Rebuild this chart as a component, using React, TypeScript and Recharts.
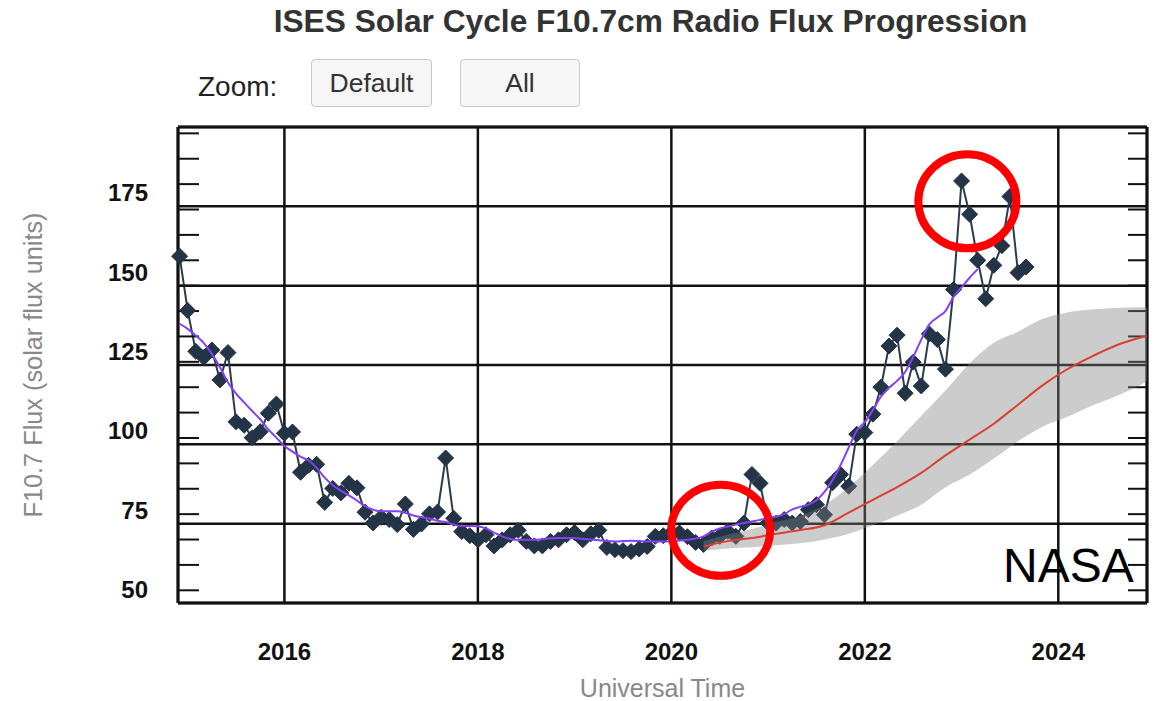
import React from "react";
import {
  ComposedChart, Line, Area, XAxis, YAxis, CartesianGrid, ReferenceDot,
} from "recharts";

// monthly observed F10.7, first value is Dec 2014
const FIRST_MONTH = "2014-12";
const FLUX = [
  159.3,
  142.2, 129.3, 127.4, 129.7, 120.3, 128.9, 107.1, 106.0, 102.1, 104.0, 109.8, 112.7,
  103.5, 103.9, 91.2, 93.4, 93.7, 81.7, 86.1, 84.7, 87.7, 86.3, 78.6, 75.2,
  77.0, 76.3, 74.7, 81.2, 73.2, 74.9, 78.1, 78.7, 95.7, 76.7, 72.5, 71.2,
  69.9, 71.5, 68.0, 69.9, 71.5, 72.9, 69.4, 68.0, 68.0, 69.4, 69.9, 71.5,
  72.2, 69.9, 71.8, 72.9, 67.5, 66.8, 66.5, 66.2, 67.0, 67.8, 71.0, 71.2,
  72.1, 72.1, 70.9, 69.1, 68.4, 70.5, 71.0, 72.6, 71.0, 75.2, 90.5, 87.7,
  75.2, 75.2, 76.3, 75.2, 75.7, 79.4, 81.0, 77.8, 87.9, 90.5, 86.8, 103.2,
  103.7, 109.5, 118.0, 131.0, 134.4, 116.1, 125.9, 118.4, 134.8, 133.0, 123.7, 148.8,
  183.0, 172.5, 158.0, 145.9, 156.4, 162.6, 178.1, 154.1, 155.9,
];
// 13-month smoothed, same months, ends Mar 2023
const SMOOTHED = [
  138.0,
  136.4, 134.3, 131.9, 128.5, 124.3, 119.5, 116.0, 113.2, 110.5, 107.9, 104.7, 102.1,
  99.5, 97.7, 96.1, 94.9, 92.6, 89.5, 87.1, 85.4, 83.9, 82.3, 80.5, 79.4,
  78.9, 78.9, 78.9, 78.4, 77.6, 77.0, 76.6, 75.9, 75.5, 74.7, 74.3, 74.3,
  74.2, 73.5, 72.2, 71.0, 70.2, 69.9, 69.9, 69.9, 70.1, 70.4, 70.5, 70.5,
  70.5, 70.2, 70.0, 69.8, 69.5, 69.4, 69.5, 69.6, 69.5, 69.4, 69.4, 69.4,
  69.4, 69.7, 69.9, 70.3, 71.0, 72.5, 73.5, 74.1, 74.7, 75.2, 75.7, 76.2,
  76.8, 77.2, 78.0, 79.5, 80.3, 81.0, 82.4, 85.0, 88.8, 93.5, 99.0, 104.3,
  107.0, 110.8, 115.0, 117.8, 120.0, 122.8, 127.5, 133.0, 137.8, 140.0, 142.0, 146.5,
  149.5, 152.5, 155.2,
];

// NOAA/NASA panel prediction
const PRED_MONTHS = [
  "2020-05", "2020-08", "2020-11", "2021-02", "2021-05", "2021-08", "2021-11",
  "2022-02", "2022-05", "2022-08", "2022-11", "2023-02", "2023-05", "2023-08",
  "2023-11", "2024-02", "2024-05", "2024-08", "2024-11", "2024-12",
];
const PRED_MEDIAN = [67.8, 69.5, 70.5, 71.8, 73.0, 74.5, 78.5, 82.5, 86.5, 91.0, 96.5, 101.5, 106.5, 112.5, 118.5, 123.5, 127.5, 131.0, 133.5, 134.2];
const PRED_HIGH = [69.5, 71.5, 73.3, 75.5, 77.5, 81.0, 86.5, 93.5, 101.0, 109.0, 117.0, 125.5, 132.0, 135.5, 139.5, 141.5, 142.5, 143.0, 143.2, 143.3];
const PRED_LOW = [66.5, 67.2, 67.6, 68.2, 68.8, 70.0, 71.8, 74.5, 77.5, 81.0, 86.5, 90.5, 95.5, 101.0, 105.5, 108.5, 112.0, 115.0, 118.5, 119.8];

const X_TICKS = [2016, 2018, 2020, 2022, 2024];
const X_MINOR = [2015, 2015.5, 2016.5, 2017, 2017.5, 2018.5, 2019, 2019.5, 2020.5, 2021, 2021.5, 2022.5, 2023, 2023.5, 2024.5];
const Y_TICKS = [50, 75, 100, 125, 150, 175];
const Y_MINOR = [
  54, 58, 62, 66, 70, 74, 78, 82, 86, 90, 94, 98, 102, 106, 110, 114, 118, 122, 126,
  130, 134, 138, 142, 146, 150, 154, 158, 162, 166, 170, 174, 178, 182, 186, 190, 194, 198,
];
// red highlight rings: [year, flux]
const RINGS = [
  { x: 2023.06, y: 176.6, rx: 49, ry: 47 },
  { x: 2020.51, y: 72.9, rx: 49.5, ry: 45.5 },
];

const X_DOMAIN = [2014.9, 2024.917];
const Y_DOMAIN = [50, 200];
const FONT = "'Liberation Sans', Arial, Helvetica, sans-serif";

const toT = (s: string) => {
  const [y, m] = s.split("-").map(Number);
  return y + (m - 1) / 12;
};

const t0 = toT(FIRST_MONTH);
const observed = FLUX.map((v, i) => ({
  t: t0 + i / 12,
  flux: v,
  smooth: i < SMOOTHED.length ? SMOOTHED[i] : null,
}));
const prediction = PRED_MONTHS.map((m, i) => ({
  t: toT(m),
  median: PRED_MEDIAN[i],
  band: [PRED_LOW[i], PRED_HIGH[i]],
}));

const Diamond = (p: any) => {
  const { cx, cy, index } = p;
  if (cx == null || cy == null) return <g key={index} />;
  const r = 8;
  return (
    <path
      key={index}
      d={`M${cx},${cy - r}L${cx + r},${cy}L${cx},${cy + r}L${cx - r},${cy}Z`}
      fill="#243447"
      stroke="#243447"
      strokeWidth={1}
    />
  );
};

const NoLabel = () => <g />;

const YTick = ({ x, y, payload }: any) => (
  <text x={x - 30} y={y - 5} textAnchor="end" fontSize={24} fontWeight="bold" fill="#111" fontFamily={FONT}>
    {payload.value}
  </text>
);

const XTick = ({ x, y, payload }: any) => (
  <text x={x} y={y + 57} textAnchor="middle" fontSize={24} fontWeight="bold" fill="#111" fontFamily={FONT}>
    {payload.value}
  </text>
);

const XTitle = ({ viewBox }: any) => (
  <text x={viewBox.x + viewBox.width / 2} y={viewBox.y + 94} textAnchor="middle" fontSize={25} fill="#888" fontFamily={FONT}>
    Universal Time
  </text>
);

const YTitle = ({ viewBox }: any) => {
  const cx = viewBox.x + 42;
  const cy = viewBox.y + viewBox.height / 2;
  return (
    <text x={cx} y={cy} transform={`rotate(-90, ${cx}, ${cy})`} textAnchor="middle" fontSize={25.3} fill="#888" fontFamily={FONT}>
      F10.7 Flux (solar flux units)
    </text>
  );
};

const buttonStyle: React.CSSProperties = {
  position: "absolute",
  top: 59,
  height: 46,
  border: "1px solid #c8c8c8",
  borderRadius: 4,
  background: "#f6f6f6",
  color: "#333",
  fontSize: 26.5,
  display: "flex",
  alignItems: "center",
  justifyContent: "center",
};

export default function App() {
  return (
    <div style={{ position: "absolute", left: 0, top: 0, width: 1160, height: 701, fontFamily: FONT, background: "#fff" }}>
      <ComposedChart
        width={1160}
        height={701}
        data={observed}
        margin={{ top: 127, right: 13, bottom: 0, left: 0 }}
      >
        <CartesianGrid stroke="#111" strokeWidth={2.5} />
        <XAxis
          dataKey="t"
          type="number"
          domain={X_DOMAIN}
          ticks={X_TICKS}
          height={98}
          tickSize={0}
          tickMargin={0}
          axisLine={false}
          tickLine={false}
          tick={<XTick />}
          label={<XTitle />}
        />
        <XAxis
          xAxisId="minorBottom"
          type="number"
          domain={X_DOMAIN}
          allowDataOverflow
          ticks={X_MINOR}
          orientation="bottom"
          mirror
          tick={<NoLabel />}
          tickSize={7}
          tickLine={{ stroke: "#aaa", strokeWidth: 2 }}
          axisLine={{ stroke: "#111", strokeWidth: 3 }}
        />
        <XAxis
          xAxisId="frameTop"
          type="number"
          domain={X_DOMAIN}
          allowDataOverflow
          orientation="top"
          mirror
          tick={false}
          tickLine={false}
          axisLine={{ stroke: "#111", strokeWidth: 3 }}
        />
        <YAxis
          type="number"
          domain={Y_DOMAIN}
          ticks={Y_TICKS}
          width={178}
          tickSize={0}
          tickMargin={0}
          axisLine={false}
          tickLine={false}
          tick={<YTick />}
          label={<YTitle />}
        />
        <YAxis
          yAxisId="minorLeft"
          type="number"
          domain={Y_DOMAIN}
          allowDataOverflow
          ticks={Y_MINOR}
          orientation="left"
          mirror
          tick={<NoLabel />}
          tickSize={21}
          tickLine={{ stroke: "#111", strokeWidth: 2 }}
          axisLine={{ stroke: "#111", strokeWidth: 3 }}
        />
        <YAxis
          yAxisId="minorRight"
          type="number"
          domain={Y_DOMAIN}
          allowDataOverflow
          ticks={Y_MINOR}
          orientation="right"
          mirror
          tick={<NoLabel />}
          tickSize={19}
          tickLine={{ stroke: "#111", strokeWidth: 2 }}
          axisLine={{ stroke: "#111", strokeWidth: 3 }}
        />
        <Line
          dataKey="flux"
          type="linear"
          stroke="#2c3b4c"
          strokeWidth={2}
          dot={Diamond}
          activeDot={false}
          isAnimationActive={false}
        />
        <Area
          data={prediction}
          dataKey="band"
          type="monotone"
          stroke="none"
          fill="#808080"
          fillOpacity={0.4}
          activeDot={false}
          isAnimationActive={false}
          zIndex={1500}
        />
        <Line
          dataKey="smooth"
          type="monotone"
          stroke="#8340f5"
          strokeWidth={2}
          dot={false}
          activeDot={false}
          isAnimationActive={false}
          zIndex={1600}
        />
        <Line
          data={prediction}
          dataKey="median"
          type="monotone"
          stroke="#d8412f"
          strokeWidth={2}
          dot={false}
          activeDot={false}
          isAnimationActive={false}
          zIndex={1600}
        />
        {RINGS.map((r, i) => (
          <ReferenceDot
            key={i}
            x={r.x}
            y={r.y}
            zIndex={1700}
            shape={(p: any) => (
              <ellipse cx={p.cx} cy={p.cy} rx={r.rx} ry={r.ry} fill="none" stroke="#f00" strokeWidth={8} />
            )}
          />
        ))}
      </ComposedChart>

      <div style={{ position: "absolute", left: 150, top: 6, width: 1001, textAlign: "center", fontSize: 31.7, lineHeight: "31px", fontWeight: "bold", color: "#333", whiteSpace: "nowrap" }}>
        ISES Solar Cycle F10.7cm Radio Flux Progression
      </div>
      <div style={{ position: "absolute", left: 198, top: 73, fontSize: 28, lineHeight: "28px", color: "#222" }}>
        Zoom:
      </div>
      <div style={{ ...buttonStyle, left: 311, width: 119 }}>Default</div>
      <div style={{ ...buttonStyle, left: 460, width: 118 }}>All</div>
      <div style={{ position: "absolute", left: 1003, top: 542, fontSize: 48, lineHeight: "48px", color: "#000" }}>
        NASA
      </div>
    </div>
  );
}
